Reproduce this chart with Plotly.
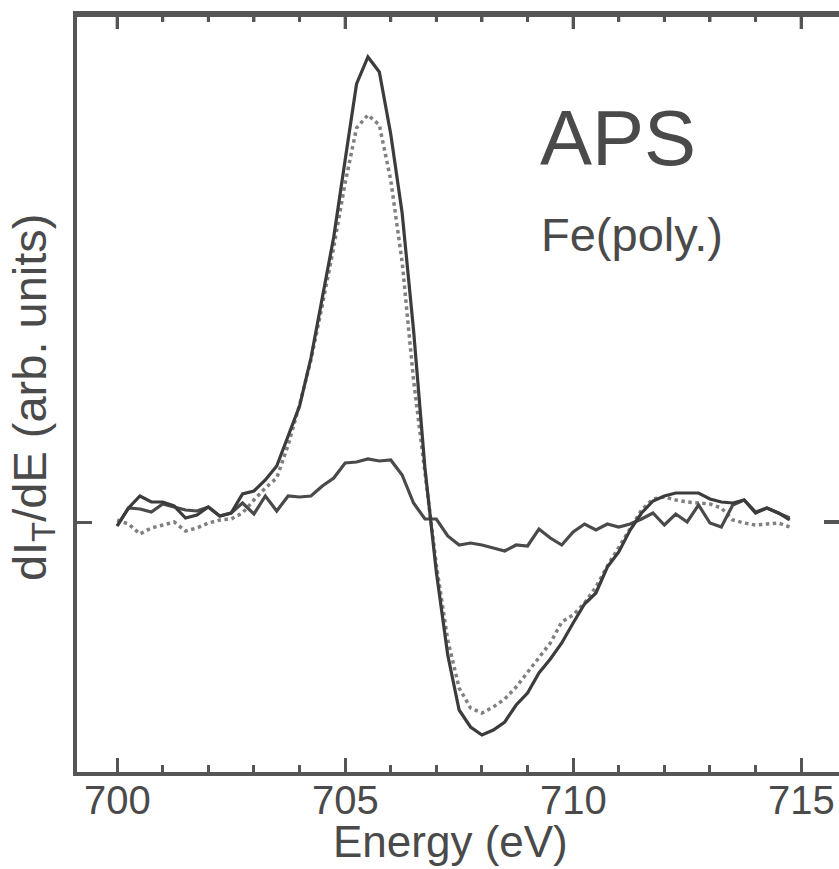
import plotly.graph_objects as go

# Energy grid (eV), 0.25 eV steps
energy = [700 + 0.25 * i for i in range(60)]

# Solid curve, large signal
solid_big = [-0.04, 0.14, 0.26, 0.20, 0.20, 0.16, 0.04, 0.07, 0.15, 0.06,
             0.09, 0.28, 0.31, 0.42, 0.56, 0.86, 1.16, 1.64, 2.25, 2.85,
             3.62, 4.38, 4.65, 4.50, 3.88, 3.09, 1.92, 0.54, -0.50, -1.33,
             -1.88, -2.05, -2.13, -2.08, -2.00, -1.83, -1.71, -1.51, -1.37, -1.21,
             -1.01, -0.82, -0.71, -0.45, -0.30, -0.08, 0.09, 0.21, 0.26, 0.29,
             0.29, 0.29, 0.23, 0.20, 0.19, 0.22, 0.09, 0.14, 0.09, 0.02]

# Dotted curve
dotted = [0.02, -0.02, -0.12, -0.06, -0.03, 0.00, -0.09, -0.06, -0.01, 0.02,
          0.03, 0.09, 0.22, 0.34, 0.44, 0.77, 1.17, 1.62, 2.17, 2.75,
          3.39, 3.94, 4.07, 3.97, 3.42, 2.60, 1.42, 0.52, -0.43, -1.18,
          -1.66, -1.86, -1.91, -1.85, -1.77, -1.65, -1.50, -1.36, -1.21, -1.00,
          -0.93, -0.81, -0.65, -0.44, -0.25, -0.06, 0.12, 0.23, 0.25, 0.22,
          0.20, 0.19, 0.18, 0.14, 0.02, -0.01, -0.03, -0.02, -0.01, -0.05]

# Solid curve, weak (noisy) signal
solid_small = [-0.04, 0.14, 0.13, 0.10, 0.18, 0.15, 0.12, 0.11, 0.15, 0.06,
               0.09, 0.19, 0.08, 0.26, 0.11, 0.26, 0.25, 0.26, 0.36, 0.44,
               0.59, 0.60, 0.63, 0.61, 0.62, 0.47, 0.19, 0.03, 0.03, -0.14,
               -0.23, -0.21, -0.23, -0.26, -0.29, -0.23, -0.24, -0.07, -0.16, -0.23,
               -0.10, -0.02, -0.08, -0.02, -0.05, -0.02, 0.03, 0.09, -0.03, 0.08,
               0.00, 0.17, -0.01, -0.05, 0.17, 0.22, 0.10, 0.14, 0.09, 0.04]

x_ticks = [700, 705, 710, 715]
x_tick_labels = ["700", "705", "710", "715"]
x_minor_ticks = [701, 702, 703, 704, 706, 707, 708, 709, 711, 712, 713, 714]

AX = "#555555"
TXT = "#4a4a4a"
FONT = "Liberation Sans, Arial, sans-serif"
XRANGE = [699.12, 715.83]
YRANGE = [-2.50, 5.07]
PLOT_H = 757.0

fig = go.Figure()
fig.add_trace(go.Scatter(x=energy, y=dotted, mode="lines",
                         line=dict(color="#808080", width=3.5, dash="dot")))
fig.add_trace(go.Scatter(x=energy, y=solid_small, mode="lines",
                         line=dict(color="#4a4a4a", width=3.2)))
fig.add_trace(go.Scatter(x=energy, y=solid_big, mode="lines",
                         line=dict(color="#3c3c3c", width=3.2)))

fig.update_layout(
    width=839, height=869,
    margin=dict(l=77, r=0, t=15, b=97),
    paper_bgcolor="white", plot_bgcolor="white",
    showlegend=False,
    font=dict(family=FONT, color=TXT),
    xaxis=dict(
        range=XRANGE, tickvals=x_ticks, showticklabels=False,
        ticks="inside", ticklen=14, tickwidth=3, tickcolor=AX,
        minor=dict(tickvals=x_minor_ticks, ticks="inside", ticklen=7,
                   tickwidth=3, tickcolor=AX, showgrid=False),
        showline=True, linewidth=4, linecolor=AX, mirror="ticks",
        showgrid=False, zeroline=False,
    ),
    yaxis=dict(
        range=YRANGE,
        tickvals=[0], showticklabels=False,
        ticks="inside", ticklen=15, tickwidth=3, tickcolor=AX,
        showline=True, linewidth=4, linecolor=AX, mirror=False,
        showgrid=False, zeroline=False,
    ),
)

# top frame line and its ticks
fig.add_shape(type="line", xref="paper", yref="paper", x0=0, x1=1, y0=1, y1=1,
              line=dict(color=AX, width=4))
for v in x_ticks:
    fig.add_shape(type="line", xref="x", yref="paper", x0=v, x1=v,
                  y0=1, y1=1 - 14 / PLOT_H, line=dict(color=AX, width=3))
for v in x_minor_ticks:
    fig.add_shape(type="line", xref="x", yref="paper", x0=v, x1=v,
                  y0=1, y1=1 - 7 / PLOT_H, line=dict(color=AX, width=3))
# right-side tick at zero
fig.add_shape(type="line", xref="paper", yref="y",
              x0=1 - 15 / 762, x1=1, y0=0, y1=0,
              line=dict(color=AX, width=4))

# x tick labels
for v, lab in zip(x_ticks, x_tick_labels):
    fig.add_annotation(text=lab, xref="x", yref="paper", x=v, y=-28 / PLOT_H,
                       xanchor="center", yanchor="middle", showarrow=False,
                       font=dict(size=40, color=TXT))

fig.add_annotation(text="Energy (eV)", xref="paper", yref="paper",
                   x=0.49, y=-70 / PLOT_H, xanchor="center", yanchor="middle",
                   showarrow=False, borderpad=0, font=dict(size=44, color=TXT))
fig.add_annotation(text="dI<sub>T</sub>/dE (arb. units)", xref="paper", yref="paper",
                   x=-0.058, y=0.495, xanchor="center", yanchor="middle",
                   textangle=-90, showarrow=False,
                   font=dict(size=47, color=TXT))
fig.add_annotation(text="APS", xref="paper", yref="paper",
                   x=0.710, y=0.8375, xanchor="center", yanchor="middle",
                   showarrow=False, font=dict(size=78, color=TXT))
fig.add_annotation(text="Fe(poly.)", xref="paper", yref="paper",
                   x=0.728, y=0.71, xanchor="center", yanchor="middle",
                   showarrow=False, font=dict(size=47, color=TXT))

fig.write_html("out.html")
